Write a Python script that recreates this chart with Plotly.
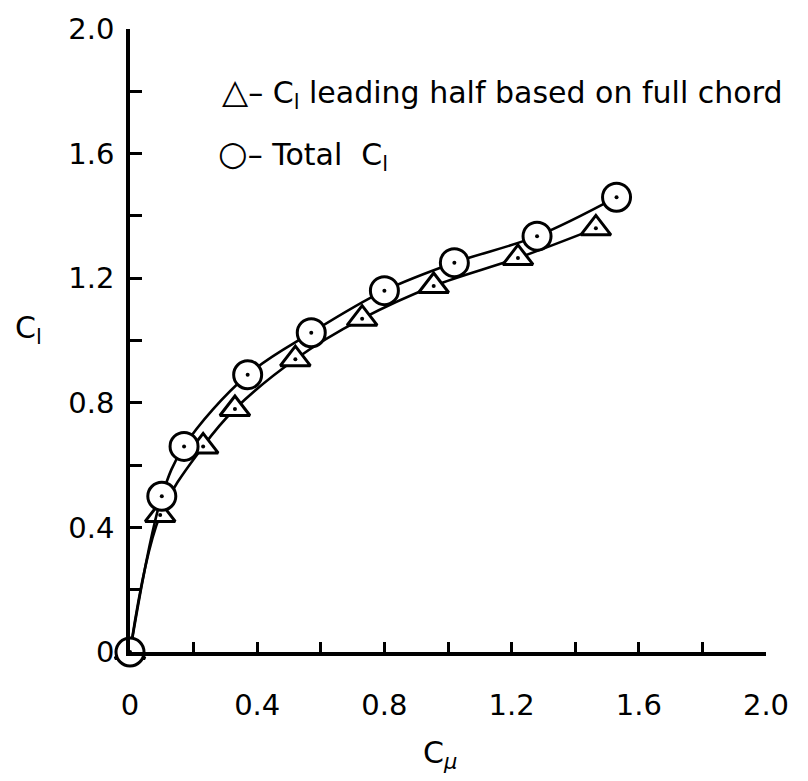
import plotly.graph_objects as go

# Blowing momentum coefficient vs. lift coefficient
cmu_total = [0.0, 0.10, 0.17, 0.37, 0.57, 0.80, 1.02, 1.28, 1.53]
cl_total = [0.0, 0.50, 0.66, 0.89, 1.025, 1.16, 1.25, 1.335, 1.46]

cmu_lead = [0.0, 0.095, 0.23, 0.33, 0.52, 0.73, 0.955, 1.22, 1.465]
cl_lead = [0.0, 0.44, 0.66, 0.78, 0.94, 1.07, 1.175, 1.265, 1.36]

x_ticks = [0, 0.4, 0.8, 1.2, 1.6, 2.0]
x_labels = ["0", "0.4", "0.8", "1.2", "1.6", "2.0"]
y_ticks = [0, 0.4, 0.8, 1.2, 1.6, 2.0]
y_labels = ["0", "0.4", "0.8", "1.2", "1.6", "2.0"]

FONT = "DejaVu Sans"
INK = "black"
W, H = 808, 781
ML, MR, MT, MB = 130, 42, 20, 129

fig = go.Figure()

for xs, ys, sym, size in [
    (cmu_lead, cl_lead, "triangle-up", 26),
    (cmu_total, cl_total, "circle", 28),
]:
    fig.add_trace(go.Scatter(
        x=xs, y=ys, mode="lines",
        line=dict(color=INK, width=2.6, shape="spline", smoothing=1.0),
        cliponaxis=False, showlegend=False, hoverinfo="skip",
    ))
    fig.add_trace(go.Scatter(
        x=xs, y=ys, mode="markers",
        marker=dict(symbol=sym, size=size, color="white",
                    line=dict(color=INK, width=3)),
        cliponaxis=False, showlegend=False,
    ))
    # centre dot inside each symbol
    fig.add_trace(go.Scatter(
        x=xs, y=ys, mode="markers",
        marker=dict(symbol="circle", size=4, color=INK),
        cliponaxis=False, showlegend=False, hoverinfo="skip",
    ))

axis_common = dict(
    range=[0, 2.0],
    showline=True, linecolor=INK, linewidth=3.5,
    ticks="inside", tickcolor=INK, tickwidth=3,
    showgrid=False, zeroline=False,
    tickfont=dict(family=FONT, size=29, color=INK),
)

fig.update_xaxes(tickvals=x_ticks, ticktext=x_labels, ticklen=10,
                 ticklabelstandoff=24,
                 minor=dict(ticks="inside", ticklen=10, tickwidth=3,
                            tickcolor=INK, dtick=0.2, tick0=0, showgrid=False),
                 **axis_common)
fig.update_yaxes(tickvals=y_ticks, ticktext=y_labels, ticklen=12,
                 ticklabelstandoff=6,
                 minor=dict(ticks="inside", ticklen=12, tickwidth=3,
                            tickcolor=INK, dtick=0.2, tick0=0, showgrid=False),
                 **axis_common)

SYM = '<span style="font-size:34px">{}</span>'
annotations = [
    (220, 84, SYM.format("△") + "– C<sub>l</sub> leading half based on full chord"),
    (216, 147, SYM.format("○") + "– Total  C<sub>l</sub>"),
    (28, 325, "C<sub>l</sub>"),
    (440, 756, "C<sub><i>μ</i></sub>"),
]
pw, ph = W - ML - MR, H - MT - MB
for px, py, txt in annotations:
    fig.add_annotation(
        x=(px - ML) / pw, y=(H - MB - py) / ph, xref="paper", yref="paper",
        text=txt, xanchor="left" if px > 200 and py < 200 else "center",
        yanchor="middle", showarrow=False,
        font=dict(family=FONT, size=30, color=INK),
    )

fig.update_layout(
    width=W, height=H,
    margin=dict(l=ML, r=MR, t=MT, b=MB),
    paper_bgcolor="white", plot_bgcolor="white",
)

fig.write_html("out.html")
